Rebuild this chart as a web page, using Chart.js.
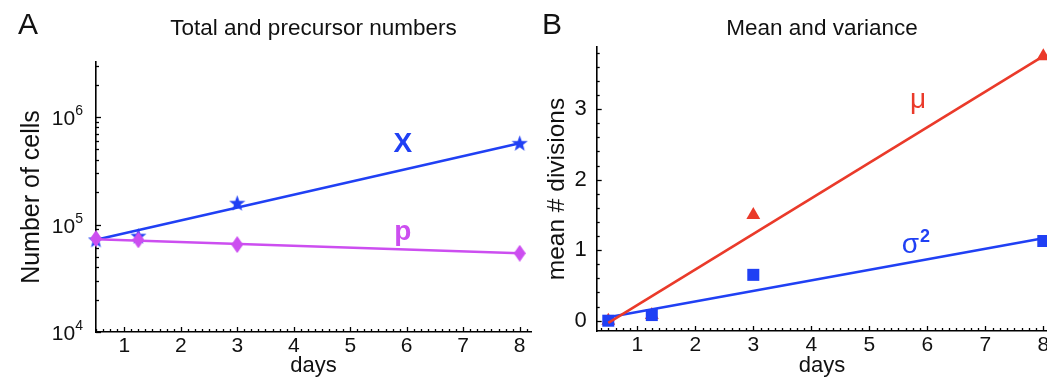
<!DOCTYPE html>
<html><head><meta charset="utf-8">
<script src="https://cdn.jsdelivr.net/npm/chart.js@4/dist/chart.umd.min.js"></script>
<style>
html,body{margin:0;padding:0;background:#fff;overflow:hidden;width:1047px;height:381px;}
#wa{position:absolute;left:0;top:0;width:545px;height:381px;}
#wb{position:absolute;left:525px;top:0;width:545px;height:381px;}
</style></head><body>
<div id="wa"><canvas id="ca" width="545" height="381"></canvas></div>
<div id="wb"><canvas id="cb" width="545" height="381"></canvas></div>
<script>
// ---------- data ----------
const daysA = [0.5, 1.25, 3, 8];
const totalX = [7.2e4, 7.8e4, 1.58e5, 5.7e5];
const precursorP = [7.4e4, 7.2e4, 6.5e4, 5.4e4];
const fitDaysA = [0.5, 8];
const fitTotalX = [7.2e4, 5.7e5];
const fitPrecursorP = [7.3e4, 5.4e4];

const daysB = [0.5, 1.25, 3, 8];
const meanMu = [0, 0.08, 1.5, 3.75];
const varianceSigma2 = [0, 0.08, 0.65, 1.13];
const fitDaysB = [0.5, 8];
const fitMeanMu = [-0.03, 3.75];
const fitVarianceSigma2 = [0.05, 1.17];

const xTickValues = [1, 2, 3, 4, 5, 6, 7, 8];
const xTickLabels = ['1', '2', '3', '4', '5', '6', '7', '8'];
const yTickValuesA = [1e4, 1e5, 1e6];
const yTickLabelsA = ['10^4', '10^5', '10^6'];
const yTickValuesB = [0, 1, 2, 3];
const yTickLabelsB = ['0', '1', '2', '3'];

// ---------- styles ----------
const FONT = '"Liberation Sans", Arial, Helvetica, sans-serif';
Chart.defaults.font.family = FONT;
Chart.defaults.color = '#111';
const BLUE = '#2040f4';
const MAGENTA = '#cc4ef0';
const RED = '#ea3a2a';
const TICK_SIZE = 21;

function makeStar(color) {
  const c = document.createElement('canvas'); c.width = 17; c.height = 17;
  const g = c.getContext('2d'); g.fillStyle = color; g.beginPath();
  for (let i = 0; i < 10; i++) {
    const r = i % 2 === 0 ? 8.5 : 3.5;
    const a = -Math.PI / 2 + i * Math.PI / 5;
    const px = 8.5 + r * Math.cos(a), py = 9 + r * Math.sin(a);
    i === 0 ? g.moveTo(px, py) : g.lineTo(px, py);
  }
  g.closePath(); g.fill(); return c;
}
function makeDiamond(color) {
  const c = document.createElement('canvas'); c.width = 12; c.height = 17;
  const g = c.getContext('2d'); g.fillStyle = color; g.beginPath();
  g.moveTo(6, 0); g.lineTo(12, 8.5); g.lineTo(6, 17); g.lineTo(0, 8.5); g.closePath(); g.fill();
  return c;
}

const pts = (xs, ys) => xs.map((x, i) => ({x, y: ys[i]}));

const inTicks = {
  id: 'inTicks',
  beforeDatasetsDraw(chart, args, o) {
    const {ctx, chartArea: a} = chart; const xs = chart.scales.x, ys = chart.scales.y;
    ctx.save(); ctx.strokeStyle = '#000'; ctx.lineWidth = 1.3;
    const start = Math.ceil(xs.min / o.xMinor - 1e-9) * o.xMinor;
    for (let v = start; v <= xs.max + 1e-9; v += o.xMinor) {
      const major = Math.abs(v - Math.round(v)) < 1e-6;
      const px = Math.round(xs.getPixelForValue(v)) + 0.5;
      ctx.beginPath(); ctx.moveTo(px, a.bottom); ctx.lineTo(px, a.bottom - (major ? 5 : 3)); ctx.stroke();
    }
    let yv = [];
    if (o.yLog) {
      for (let e = Math.floor(Math.log10(ys.min)); e <= Math.ceil(Math.log10(ys.max)); e++)
        for (let m = 1; m <= 9; m++) { const v = m * Math.pow(10, e); if (v >= ys.min && v <= ys.max) yv.push([v, m === 1]); }
    } else {
      const s = Math.ceil(ys.min / o.yMinor - 1e-9) * o.yMinor;
      for (let v = s; v <= ys.max + 1e-9; v += o.yMinor) yv.push([v, Math.abs(v - Math.round(v)) < 1e-6]);
    }
    yv.forEach(([v, major]) => {
      const py = Math.round(ys.getPixelForValue(v)) + 0.5;
      ctx.beginPath(); ctx.moveTo(a.left, py); ctx.lineTo(a.left + (major ? 5 : 3), py); ctx.stroke();
    });
    ctx.restore();
  }
};

const panelText = {
  id: 'panelText',
  afterDraw(chart, args, o) {
    const {ctx, chartArea: a} = chart; const xs = chart.scales.x, ys = chart.scales.y;
    ctx.save(); ctx.textBaseline = 'alphabetic';
    ctx.fillStyle = '#111';
    ctx.textAlign = 'left'; ctx.font = '30px ' + FONT; ctx.fillText(o.letter, o.letterX, 34);
    ctx.textAlign = 'center'; ctx.font = '22.5px ' + FONT; ctx.fillText(o.title, (a.left + a.right) / 2, 35);
    // power-of-ten tick labels with real superscripts
    if (o.powTicks) {
      o.powTicks.values.forEach((v, i) => {
        const [base, exp] = o.powTicks.labels[i].split('^');
        const py = ys.getPixelForValue(v);
        const right = a.left - o.powTicks.gap;
        ctx.font = '14px ' + FONT; ctx.textAlign = 'right'; ctx.fillStyle = '#111';
        const ew = ctx.measureText(exp).width;
        ctx.fillText(exp, right, py - 2);
        ctx.font = TICK_SIZE + 'px ' + FONT;
        ctx.fillText(base, right - ew, py + 8);
      });
    }
    o.labels.forEach(l => {
      const px = xs.getPixelForValue(l.x), py = ys.getPixelForValue(l.y);
      ctx.fillStyle = l.color; ctx.font = l.font; ctx.textAlign = l.align || 'center';
      ctx.fillText(l.text, px, py);
      if (l.sup) {
        const w = ctx.measureText(l.text).width;
        ctx.font = l.supFont; ctx.textAlign = 'left';
        ctx.fillText(l.sup, px + w + 1, py - 11);
      }
    });
    ctx.restore();
  }
};

function axisCommon(extra) {
  return Object.assign({
    grid: {display: false, drawTicks: false},
    border: {display: true, color: '#000', width: 1.6},
  }, extra);
}

// ---------- panel A ----------
new Chart(document.getElementById('ca'), {
  type: 'line',
  data: {datasets: [
    {data: pts(daysA, precursorP), showLine: false, pointStyle: makeDiamond(MAGENTA), pointRadius: 8, backgroundColor: MAGENTA, borderColor: MAGENTA, order: 0, clip: false},
    {data: pts(fitDaysA, fitPrecursorP), borderColor: MAGENTA, borderWidth: 2.6, pointRadius: 0, order: 1, clip: false},
    {data: pts(daysA, totalX), showLine: false, pointStyle: makeStar(BLUE), pointRadius: 8, backgroundColor: BLUE, borderColor: BLUE, order: 2, clip: false},
    {data: pts(fitDaysA, fitTotalX), borderColor: BLUE, borderWidth: 2.6, pointRadius: 0, order: 3, clip: false},
  ]},
  options: {
    responsive: false, animation: false, devicePixelRatio: 1,
    layout: {padding: {left: 0, right: 14, top: 62, bottom: 0}},
    plugins: {
      legend: {display: false}, tooltip: {enabled: false},
      inTicks: {xMinor: 0.125, yLog: true},
      panelText: {letter: 'A', letterX: 18, title: 'Total and precursor numbers',
        powTicks: {values: yTickValuesA, labels: yTickLabelsA, gap: 13},
        labels: [
          {text: 'X', x: 5.93, y: 4.72e5, color: BLUE, font: 'bold 28px ' + FONT},
          {text: 'p', x: 5.93, y: 7.2e4, color: MAGENTA, font: 'bold 28px ' + FONT},
        ]}
    },
    scales: {
      x: axisCommon({type: 'linear', min: 0.5, max: 8.2,
        afterFit: s => { s.height = 49; },
        afterBuildTicks: s => { s.ticks = xTickValues.map(v => ({value: v})); },
        ticks: {autoSkip: false, maxRotation: 0, padding: 2, font: {size: TICK_SIZE}, color: '#111',
          callback: v => xTickLabels[xTickValues.indexOf(v)]},
        title: {display: true, text: 'days', font: {size: 22}, color: '#111', padding: {top: 0, bottom: 2}}}),
      y: axisCommon({type: 'logarithmic', min: 1e4, max: 3.25e6,
        afterFit: s => { s.width = 96; },
        afterBuildTicks: s => { s.ticks = yTickValuesA.map(v => ({value: v})); },
        ticks: {display: false},
        title: {display: true, text: 'Number of cells', font: {size: 25}, color: '#111', padding: {top: 17, bottom: 0}}}),
    }
  },
  plugins: [inTicks, panelText]
});

// ---------- panel B ----------
new Chart(document.getElementById('cb'), {
  type: 'line',
  data: {datasets: [
    {data: pts(fitDaysB, fitMeanMu), borderColor: RED, borderWidth: 2.6, pointRadius: 0, order: 0, clip: false},
    {data: pts(fitDaysB, fitVarianceSigma2), borderColor: BLUE, borderWidth: 2.6, pointRadius: 0, order: 1, clip: false},
    {data: pts(daysB, varianceSigma2), showLine: false, pointStyle: 'rect', pointRadius: 8.5, backgroundColor: BLUE, borderColor: BLUE, borderWidth: 0, order: 2, clip: false},
    {data: pts(daysB, meanMu), showLine: false, pointStyle: 'triangle', pointRadius: 8, backgroundColor: RED, borderColor: RED, borderWidth: 0, order: 3, clip: false},
  ]},
  options: {
    responsive: false, animation: false, devicePixelRatio: 1,
    layout: {padding: {left: 0, right: 22.7, top: 47, bottom: 0}},
    plugins: {
      legend: {display: false}, tooltip: {enabled: false},
      inTicks: {xMinor: 0.125, yMinor: 0.2, yLog: false},
      panelText: {letter: 'B', letterX: 17, title: 'Mean and variance', labels: [
        {text: 'μ', x: 5.84, y: 3.01, color: RED, font: '28px ' + FONT},
        {text: 'σ', x: 5.56, y: 0.96, color: BLUE, font: '28px ' + FONT, align: 'left', sup: '2', supFont: 'bold 18px ' + FONT},
      ]}
    },
    scales: {
      x: axisCommon({type: 'linear', min: 0.3, max: 8.069,
        afterFit: s => { s.height = 50; },
        afterBuildTicks: s => { s.ticks = xTickValues.map(v => ({value: v})); },
        ticks: {autoSkip: false, maxRotation: 0, padding: 2, font: {size: TICK_SIZE}, color: '#111',
          callback: v => xTickLabels[xTickValues.indexOf(v)]},
        title: {display: true, text: 'days', font: {size: 22}, color: '#111', padding: {top: 0, bottom: 2}}}),
      y: axisCommon({type: 'linear', min: -0.146, max: 3.88,
        afterFit: s => { s.width = 71.7; },
        afterBuildTicks: s => { s.ticks = yTickValuesB.map(v => ({value: v})); },
        ticks: {autoSkip: false, padding: 10, font: {size: 22}, color: '#111',
          callback: v => yTickLabelsB[yTickValuesB.indexOf(v)]},
        title: {display: true, text: 'mean # divisions', font: {size: 24.5}, color: '#111', padding: {top: 18, bottom: 0}}}),
    }
  },
  plugins: [inTicks, panelText]
});
</script>
</body></html>
